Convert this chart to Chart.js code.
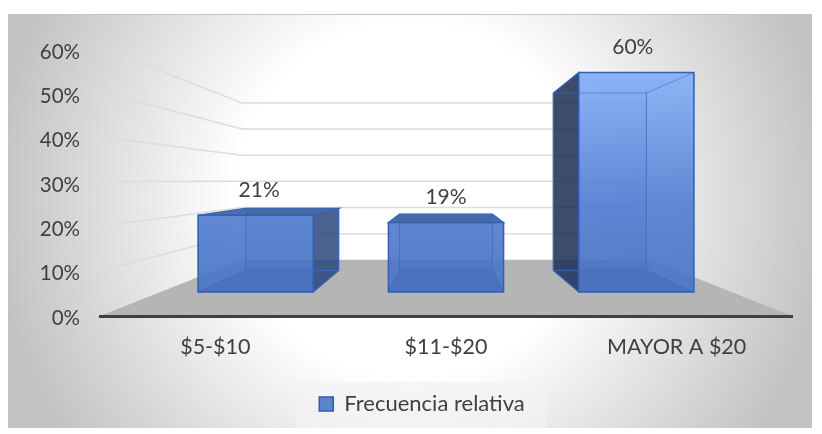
<!DOCTYPE html>
<html>
<head>
<meta charset="utf-8">
<title>Frecuencia relativa</title>
<script src="https://cdn.jsdelivr.net/npm/chart.js@4"></script>
<style>
    html, body { margin: 0; padding: 0; background: #fff; }
    canvas { display: block; }
</style>
</head>
<body>
<canvas id="grafico" width="822" height="434"></canvas>
<script>
const categorias = ['$5-$10', '$11-$20', 'MAYOR A $20'];
const frecuencia = [21, 19, 60];
const nombreSerie = 'Frecuencia relativa';
const marcasEje = [0, 10, 20, 30, 40, 50, 60];

// depth of each plane in the fake 3D box (1 = axis plane)
const K_FRENTE = 0.825;
const K_FONDO = 0.667;
const K_PARED = 0.59;
const TEXTO = '#404040';
const FUENTE = 'Lato';
const DESPLAZA_LEYENDA = 6;

function proyecta(chart, x, y, k) {
    const a = chart.chartArea;
    const vx = (a.left + a.right) / 2;
    const vy = a.top + (a.bottom - a.top) * 0.485;
    return [vx + (x - vx) * k, vy + (y - vy) * k];
}

function cara(ctx, puntos, relleno, borde, grosor) {
    ctx.beginPath();
    puntos.forEach(function (p, i) {
        if (i === 0) ctx.moveTo(p[0], p[1]);
        else ctx.lineTo(p[0], p[1]);
    });
    ctx.closePath();
    if (relleno) {
        ctx.fillStyle = relleno;
        ctx.fill();
    }
    if (borde) {
        ctx.strokeStyle = borde;
        ctx.lineWidth = grosor;
        ctx.stroke();
    }
}

const fondo3d = {
    id: 'fondo3d',
    beforeDraw(chart) {
        const ctx = chart.ctx;
        const a = chart.chartArea;
        const ys = chart.scales.y;
        // panel
        const g = ctx.createRadialGradient(411, 200, 0, 411, 200, 420);
        g.addColorStop(0, '#ffffff');
        g.addColorStop(0.42, '#ffffff');
        g.addColorStop(1, '#c2c2c2');
        ctx.fillStyle = g;
        ctx.fillRect(8, 14, 804, 414);
        ctx.strokeStyle = '#c4c4c4';
        ctx.lineWidth = 1;
        ctx.beginPath();
        ctx.moveTo(8, 14.5);
        ctx.lineTo(812, 14.5);
        ctx.stroke();
        // floor
        cara(ctx, [
            [a.left, a.bottom],
            proyecta(chart, a.left, a.bottom, K_PARED),
            proyecta(chart, a.right, a.bottom, K_PARED),
            [a.right, a.bottom]
        ], '#b5b5b5');
        // walls
        ctx.strokeStyle = '#dcdcdc';
        ctx.lineWidth = 1.5;
        ys.ticks.forEach(function (t, i) {
            if (t.value === 0) return;
            const y = ys.getPixelForTick(i);
            const p1 = proyecta(chart, a.left, y, K_PARED);
            const p2 = proyecta(chart, a.right, y, K_PARED);
            ctx.beginPath();
            ctx.moveTo(a.left, y - 3 * t.value / 60);
            ctx.lineTo(p1[0], p1[1]);
            ctx.lineTo(p2[0], p2[1]);
            ctx.stroke();
        });
        // legend backing
        const h = chart.legend.legendHitBoxes[0];
        ctx.fillStyle = 'rgba(242,242,242,0.7)';
        ctx.fillRect(h.left - 24, h.top + h.height / 2 - 22, 251, 46);
    },
    afterLayout(chart) {
        chart.legend.left += DESPLAZA_LEYENDA;
        chart.legend.right += DESPLAZA_LEYENDA;
    },
    beforeDatasetDraw() {
        return false; // the boxes are drawn below from the same elements
    },
    afterDatasetsDraw(chart) {
        const ctx = chart.ctx;
        const a = chart.chartArea;
        const relleno = ctx.createLinearGradient(0, a.top + 22, 0, 292);
        relleno.addColorStop(0, 'rgba(128,174,248,0.9)');
        relleno.addColorStop(0.6, 'rgba(76,122,208,0.9)');
        relleno.addColorStop(1, 'rgba(68,112,194,0.92)');

        chart.getDatasetMeta(0).data.forEach(function (el, i) {
            const izq = el.x - el.width / 2;
            const der = el.x + el.width / 2;
            const f = function (x, y) { return proyecta(chart, x, y, K_FRENTE); };
            const b = function (x, y) { return proyecta(chart, x, y, K_FONDO); };
            const fti = f(izq, el.y), ftd = f(der, el.y), fbi = f(izq, el.base), fbd = f(der, el.base);
            const bti = b(izq, el.y), btd = b(der, el.y), bbi = b(izq, el.base), bbd = b(der, el.base);
            const lineaInt = 'rgba(60,110,200,0.55)';
            const lineaExt = '#3362b5';

            // faces that stick out of the front rectangle are dark
            if (bbi[0] < fbi[0]) cara(ctx, [fti, bti, bbi, fbi], 'rgba(28,46,84,0.86)', lineaExt, 1.2);
            if (bbd[0] > fbd[0]) cara(ctx, [ftd, btd, bbd, fbd], 'rgba(42,72,125,0.85)', lineaExt, 1.2);
            if (bti[1] < fti[1]) cara(ctx, [fti, bti, btd, ftd], 'rgba(48,84,150,0.88)', lineaExt, 1.2);

            cara(ctx, [fti, ftd, fbd, fbi], relleno);

            // inner faces, seen through the front
            cara(ctx, [bti, btd, bbd, bbi], null, lineaInt, 1);
            cara(ctx, [fbi, fbd, bbd, bbi], 'rgba(40,80,160,0.10)', lineaInt, 1);
            if (bbd[0] <= fbd[0]) cara(ctx, [ftd, btd, bbd, fbd], 'rgba(255,255,255,0.03)', lineaInt, 1);
            if (bbi[0] >= fbi[0]) cara(ctx, [fti, bti, bbi, fbi], 'rgba(255,255,255,0.03)', lineaInt, 1);

            cara(ctx, [fti, ftd, fbd, fbi], null, lineaExt, 1.5);

            // value above the box
            ctx.fillStyle = TEXTO;
            ctx.font = '21px ' + FUENTE;
            ctx.textAlign = 'center';
            ctx.textBaseline = 'middle';
            const xEtiqueta = proyecta(chart, el.x, el.y, 0.81)[0];
            ctx.fillText(frecuencia[i] + '%', xEtiqueta, fti[1] - 25);
        });
    }
};

new Chart(document.getElementById('grafico'), {
    type: 'bar',
    data: {
        labels: categorias,
        datasets: [{
            label: nombreSerie,
            data: frecuencia,
            backgroundColor: '#5b84cc',
            borderColor: '#2f5ba8',
            borderWidth: 1.5,
            barPercentage: 0.605,
            categoryPercentage: 1
        }]
    },
    options: {
        responsive: false,
        animation: false,
        layout: { padding: { left: 40, right: 30, top: 50, bottom: 9 } },
        plugins: {
            tooltip: { enabled: false },
            legend: {
                position: 'bottom',
                labels: {
                    color: TEXTO,
                    font: { family: FUENTE, size: 22 },
                    boxWidth: 14,
                    boxHeight: 14
                }
            }
        },
        scales: {
            x: {
                grid: { display: false, drawTicks: false },
                border: { color: '#404040', width: 3 },
                ticks: {
                    color: TEXTO,
                    font: { family: FUENTE, size: 21.5 },
                    padding: 18,
                    maxRotation: 0
                },
                afterFit(s) { s.height = 67; }
            },
            y: {
                min: 0,
                max: 60,
                afterBuildTicks(s) {
                    s.ticks = marcasEje.map(function (v) { return { value: v }; });
                },
                grid: { display: false, drawTicks: false },
                border: { display: false },
                ticks: {
                    color: TEXTO,
                    font: { family: FUENTE, size: 20.5 },
                    padding: 20,
                    labelOffset: 2,
                    callback: function (v) { return v + '%'; }
                },
                afterFit(s) { s.width = 60; }
            }
        }
    },
    plugins: [fondo3d]
});
</script>
</body>
</html>
